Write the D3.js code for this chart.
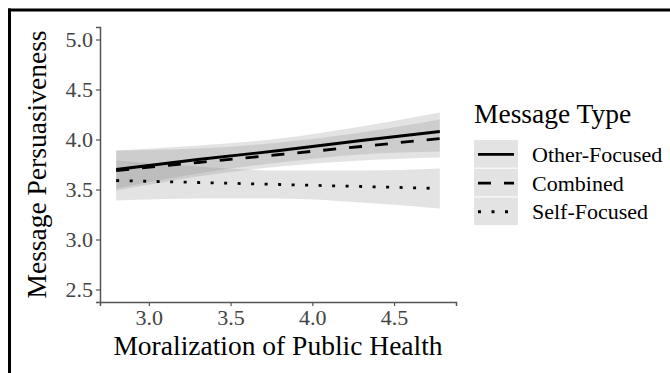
<!DOCTYPE html>
<html>
<head>
<meta charset="utf-8">
<script src="https://cdn.jsdelivr.net/npm/d3@7"></script>
<style>
  body { margin: 0; background: #fff; }
  svg text { font-family: "Liberation Serif", "Times New Roman", serif !important; }
</style>
</head>
<body>
<div id="chart"></div>
<script>
// values (fit line and 95% band at a few x positions)
const moralization = [2.8, 3.3, 3.8, 4.3, 4.78];
const messageTypes = ["Other-Focused", "Combined", "Self-Focused"];
const otherFit = [3.70, 3.80, 3.89, 3.99, 4.08];
const otherLower = [3.51, 3.66, 3.77, 3.85, 3.88];
const otherUpper = [3.89, 3.94, 4.01, 4.13, 4.27];
const combinedFit = [3.69, 3.77, 3.85, 3.93, 4.01];
const combinedLower = [3.49, 3.63, 3.73, 3.79, 3.82];
const combinedUpper = [3.89, 3.91, 3.97, 4.07, 4.20];
const selfFit = [3.59, 3.57, 3.55, 3.53, 3.51];
const selfLower = [3.39, 3.41, 3.41, 3.37, 3.31];
const selfUpper = [3.79, 3.73, 3.69, 3.69, 3.71];
const xTicks = [3.0, 3.5, 4.0, 4.5];
const yTicks = [2.5, 3.0, 3.5, 4.0, 4.5, 5.0];

const dashes = {"Other-Focused": null, "Combined": "13,13", "Self-Focused": "3,10.5"};
const serif = '"Liberation Serif", "Times New Roman", serif';

const series = [
  {name: "Other-Focused", fit: otherFit, lo: otherLower, hi: otherUpper},
  {name: "Combined", fit: combinedFit, lo: combinedLower, hi: combinedUpper},
  {name: "Self-Focused", fit: selfFit, lo: selfLower, hi: selfUpper}
].map(s => ({name: s.name, pts: moralization.map((m, i) => ({x: m, y: s.fit[i], lo: s.lo[i], hi: s.hi[i]}))}));

const width = 670, height = 373;
const svg = d3.select("#chart").append("svg")
  .attr("width", width).attr("height", height)
  .attr("font-family", serif);

// frame of the cropped figure
svg.append("line").attr("x1", 8).attr("x2", 670).attr("y1", 10).attr("y2", 10)
  .attr("stroke", "#000").attr("stroke-width", 3);
svg.append("line").attr("x1", 9.5).attr("x2", 9.5).attr("y1", 8.5).attr("y2", 373)
  .attr("stroke", "#000").attr("stroke-width", 3);

// ggplot-like 5% expansion
const xPad = (d3.max(moralization) - d3.min(moralization)) * 0.05;
const x = d3.scaleLinear()
  .domain([d3.min(moralization) - xPad, d3.max(moralization) + xPad])
  .range([100, 456]);
const y = d3.scaleLinear()
  .domain([2.375, 5.125])
  .range([302, 27]);

// confidence bands
const band = d3.area()
  .x(d => x(d.x)).y0(d => y(d.lo)).y1(d => y(d.hi))
  .curve(d3.curveMonotoneX);
svg.append("g").selectAll("path")
  .data(series)
  .join("path")
    .attr("d", d => band(d.pts))
    .attr("fill", "#888")
    .attr("fill-opacity", 0.24);

// fit lines
const line = d3.line().x(d => x(d.x)).y(d => y(d.y));
svg.append("g").selectAll("path")
  .data(series)
  .join("path")
    .attr("d", d => line(d.pts))
    .attr("fill", "none")
    .attr("stroke", "#000")
    .attr("stroke-width", 2.8)
    .attr("stroke-dasharray", d => dashes[d.name]);

// axes
const xAxis = svg.append("g")
  .attr("transform", `translate(0,${y.range()[0]})`)
  .call(d3.axisBottom(x).tickValues(xTicks).tickFormat(d3.format(".1f")).tickSizeOuter(0).tickSize(4).tickPadding(3));
const yAxis = svg.append("g")
  .attr("transform", `translate(${x.range()[0]},0)`)
  .call(d3.axisLeft(y).tickValues(yTicks).tickFormat(d3.format(".1f")).tickSizeOuter(0).tickSize(4).tickPadding(3));
[xAxis, yAxis].forEach(a => {
  a.attr("font-family", serif).attr("font-size", 22);
  a.select(".domain").attr("stroke", "#555").attr("stroke-width", 1.5);
  a.selectAll(".tick line").attr("stroke", "#555").attr("stroke-width", 1.2);
  a.selectAll(".tick text").attr("fill", "#444");
});

// axis titles
svg.append("text")
  .attr("x", (x.range()[0] + x.range()[1]) / 2)
  .attr("y", 355)
  .attr("text-anchor", "middle")
  .attr("font-size", 27.5)
  .text("Moralization of Public Health");
svg.append("text")
  .attr("transform", `translate(46,${(y.range()[0] + y.range()[1]) / 2}) rotate(-90)`)
  .attr("text-anchor", "middle")
  .attr("font-size", 27.5)
  .text("Message Persuasiveness");

// legend
const legend = svg.append("g").attr("transform", "translate(474,0)");
legend.append("text")
  .attr("x", 0).attr("y", 123)
  .attr("font-size", 27.5)
  .text("Message Type");
const keyH = 28.7, keyW = 44, key0 = 140;
const rows = legend.selectAll("g.row")
  .data(messageTypes)
  .join("g")
    .attr("class", "row")
    .attr("transform", (d, i) => `translate(0,${key0 + i * keyH})`);
rows.append("rect")
  .attr("width", keyW).attr("height", keyH - 1)
  .attr("fill", "#888").attr("fill-opacity", 0.24);
rows.append("line")
  .attr("x1", 4).attr("x2", 40)
  .attr("y1", keyH / 2).attr("y2", keyH / 2)
  .attr("stroke", "#000").attr("stroke-width", 2.8)
  .attr("stroke-dasharray", d => dashes[d]);
rows.append("text")
  .attr("x", 58).attr("y", keyH / 2 + 7.5)
  .attr("font-size", 22)
  .text(d => d);
</script>
</body>
</html>
